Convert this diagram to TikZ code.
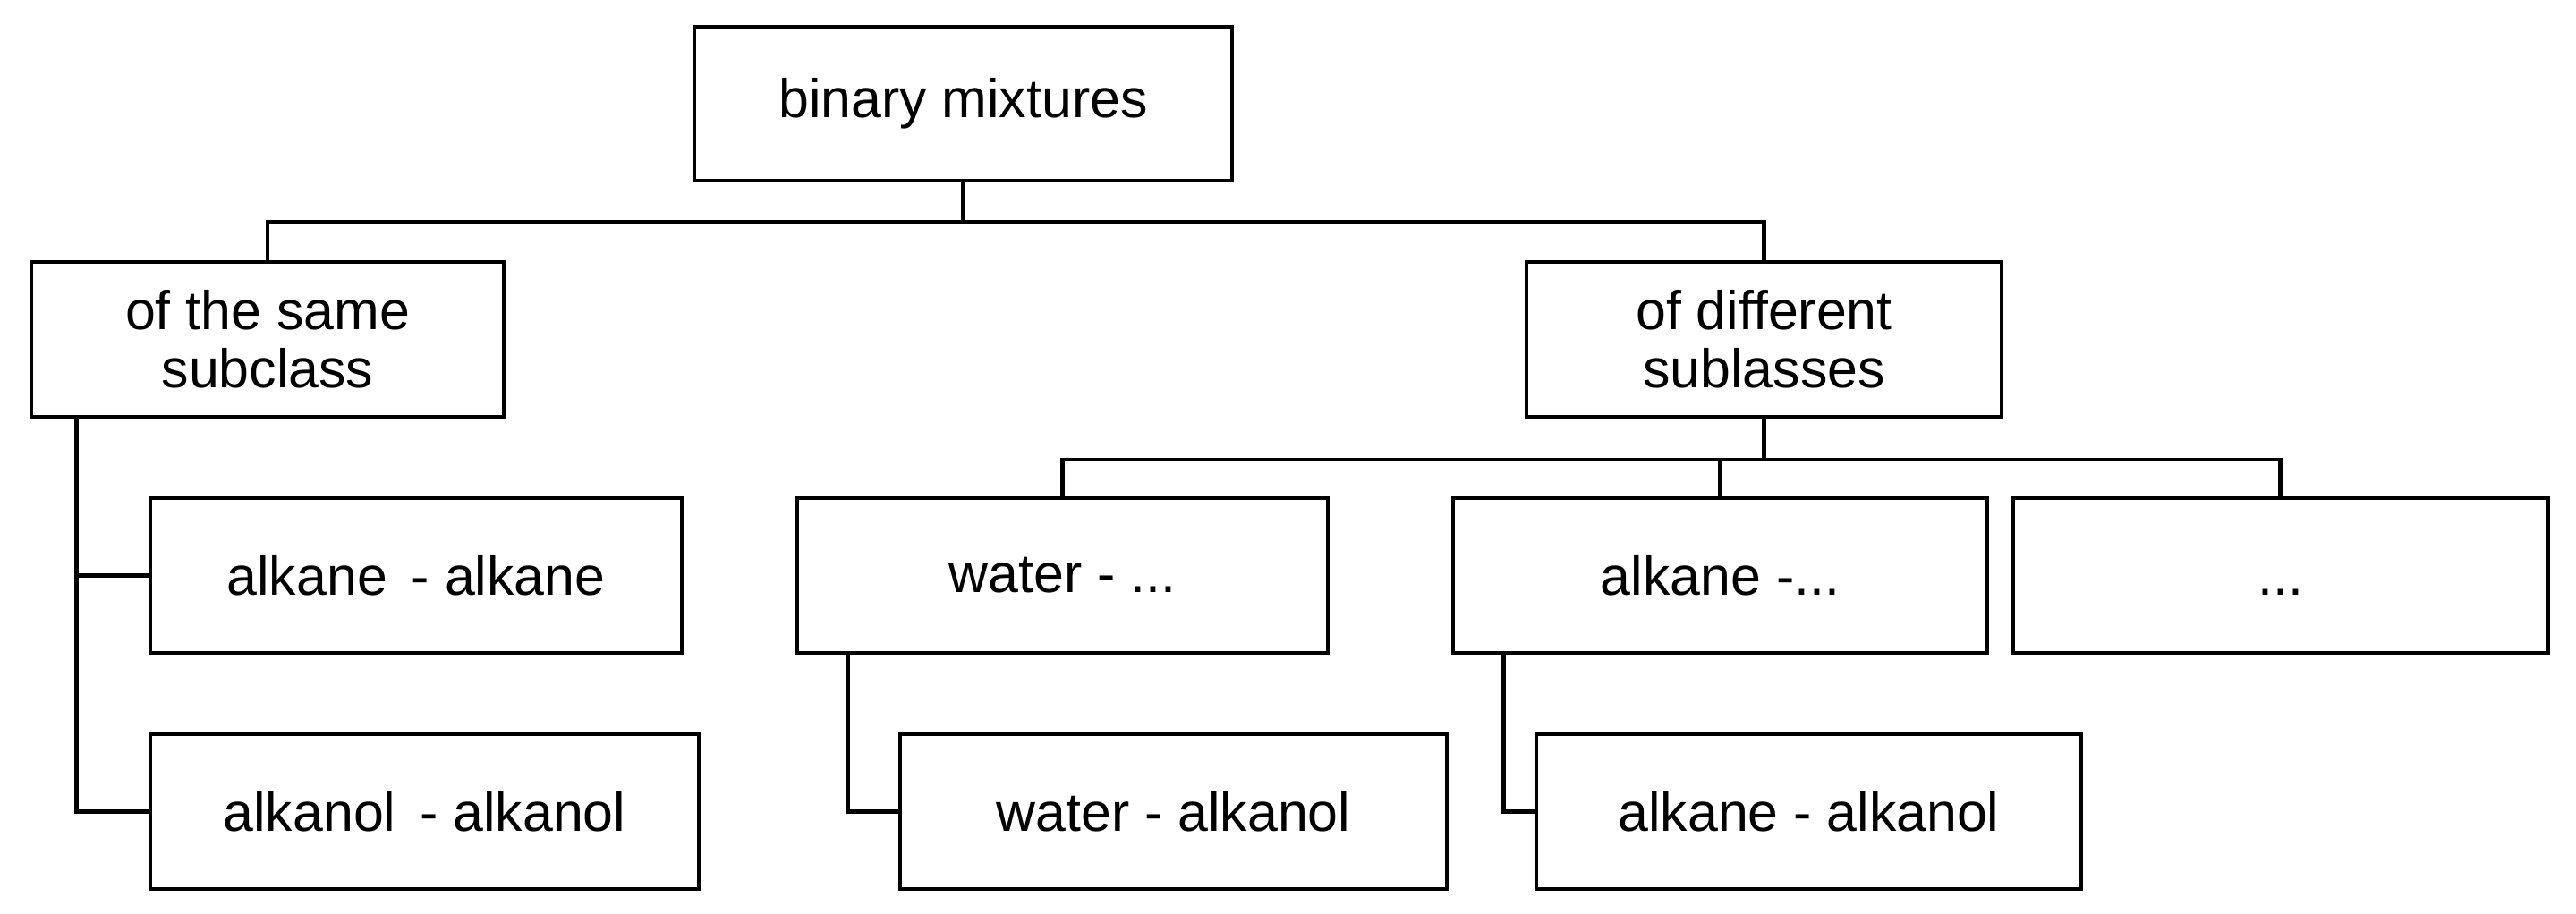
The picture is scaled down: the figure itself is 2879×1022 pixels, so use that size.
\documentclass[tikz,border=0pt]{standalone}
\usepackage{fontspec}
\setmainfont{Liberation Sans}
\usetikzlibrary{calc}
\begin{document}
\begin{tikzpicture}[x=0.01cm,y=-0.01cm,
  box/.style={draw=black, line width=1.4pt, fill=white, rectangle, inner sep=0pt,
    minimum height=173*0.01cm, align=center,
    font=\fontsize{17.3pt}{18.6pt}\selectfont},
  conn/.style={draw=black, line width=1.3pt}]
\useasboundingbox (0,0) rectangle (2879,1022);
\node[box, minimum width=601*0.01cm, minimum height=172*0.01cm] (bm) at (1076.5,116) {binary mixtures};
\node[box, minimum width=528*0.01cm] (same) at (299,379.5) {of the same\\subclass};
\node[box, minimum width=531*0.01cm] (diff) at (1971.5,379.5) {of different\\sublasses};
\node[box, minimum width=594*0.01cm] (aa) at (465,643.5) {alkane\, - alkane};
\node[box, minimum width=613*0.01cm] (ala) at (474.5,907.5) {alkanol\, - alkanol};
\node[box, minimum width=593*0.01cm] (wd) at (1187.5,643.5) {water - ...};
\node[box, minimum width=597*0.01cm] (ad) at (1922.5,643.5) {alkane -...};
\node[box, minimum width=597*0.01cm] (dd) at (2548.5,643.5) {\vphantom{alkane}...};
\node[box, minimum width=611*0.01cm] (wa) at (1311.5,907.5) {water - alkanol};
\node[box, minimum width=609*0.01cm] (aal) at (2021.5,907.5) {alkane - alkanol};
\coordinate (h1) at (bm.south |- 0,248);
\coordinate (h2) at (diff.south |- 0,514);
\draw[conn] (bm.south) -- (h1);
\draw[conn] (same.north) |- (h1) -| (diff.north);
\draw[conn] (diff.south) -- (h2);
\draw[conn] (wd.north) |- (h2) -| (dd.north);
\draw[conn] (ad.north) -- (ad.north |- h2);
\coordinate (s1) at ($(same.south west)+(53,0)$);
\draw[conn] (s1) |- (aa.west);
\draw[conn] (s1) |- (ala.west);
\coordinate (s2) at ($(wd.south west)+(59,0)$);
\draw[conn] (s2) |- (wa.west);
\coordinate (s3) at ($(ad.south west)+(59,0)$);
\draw[conn] (s3) |- (aal.west);
\end{tikzpicture}
\end{document}
